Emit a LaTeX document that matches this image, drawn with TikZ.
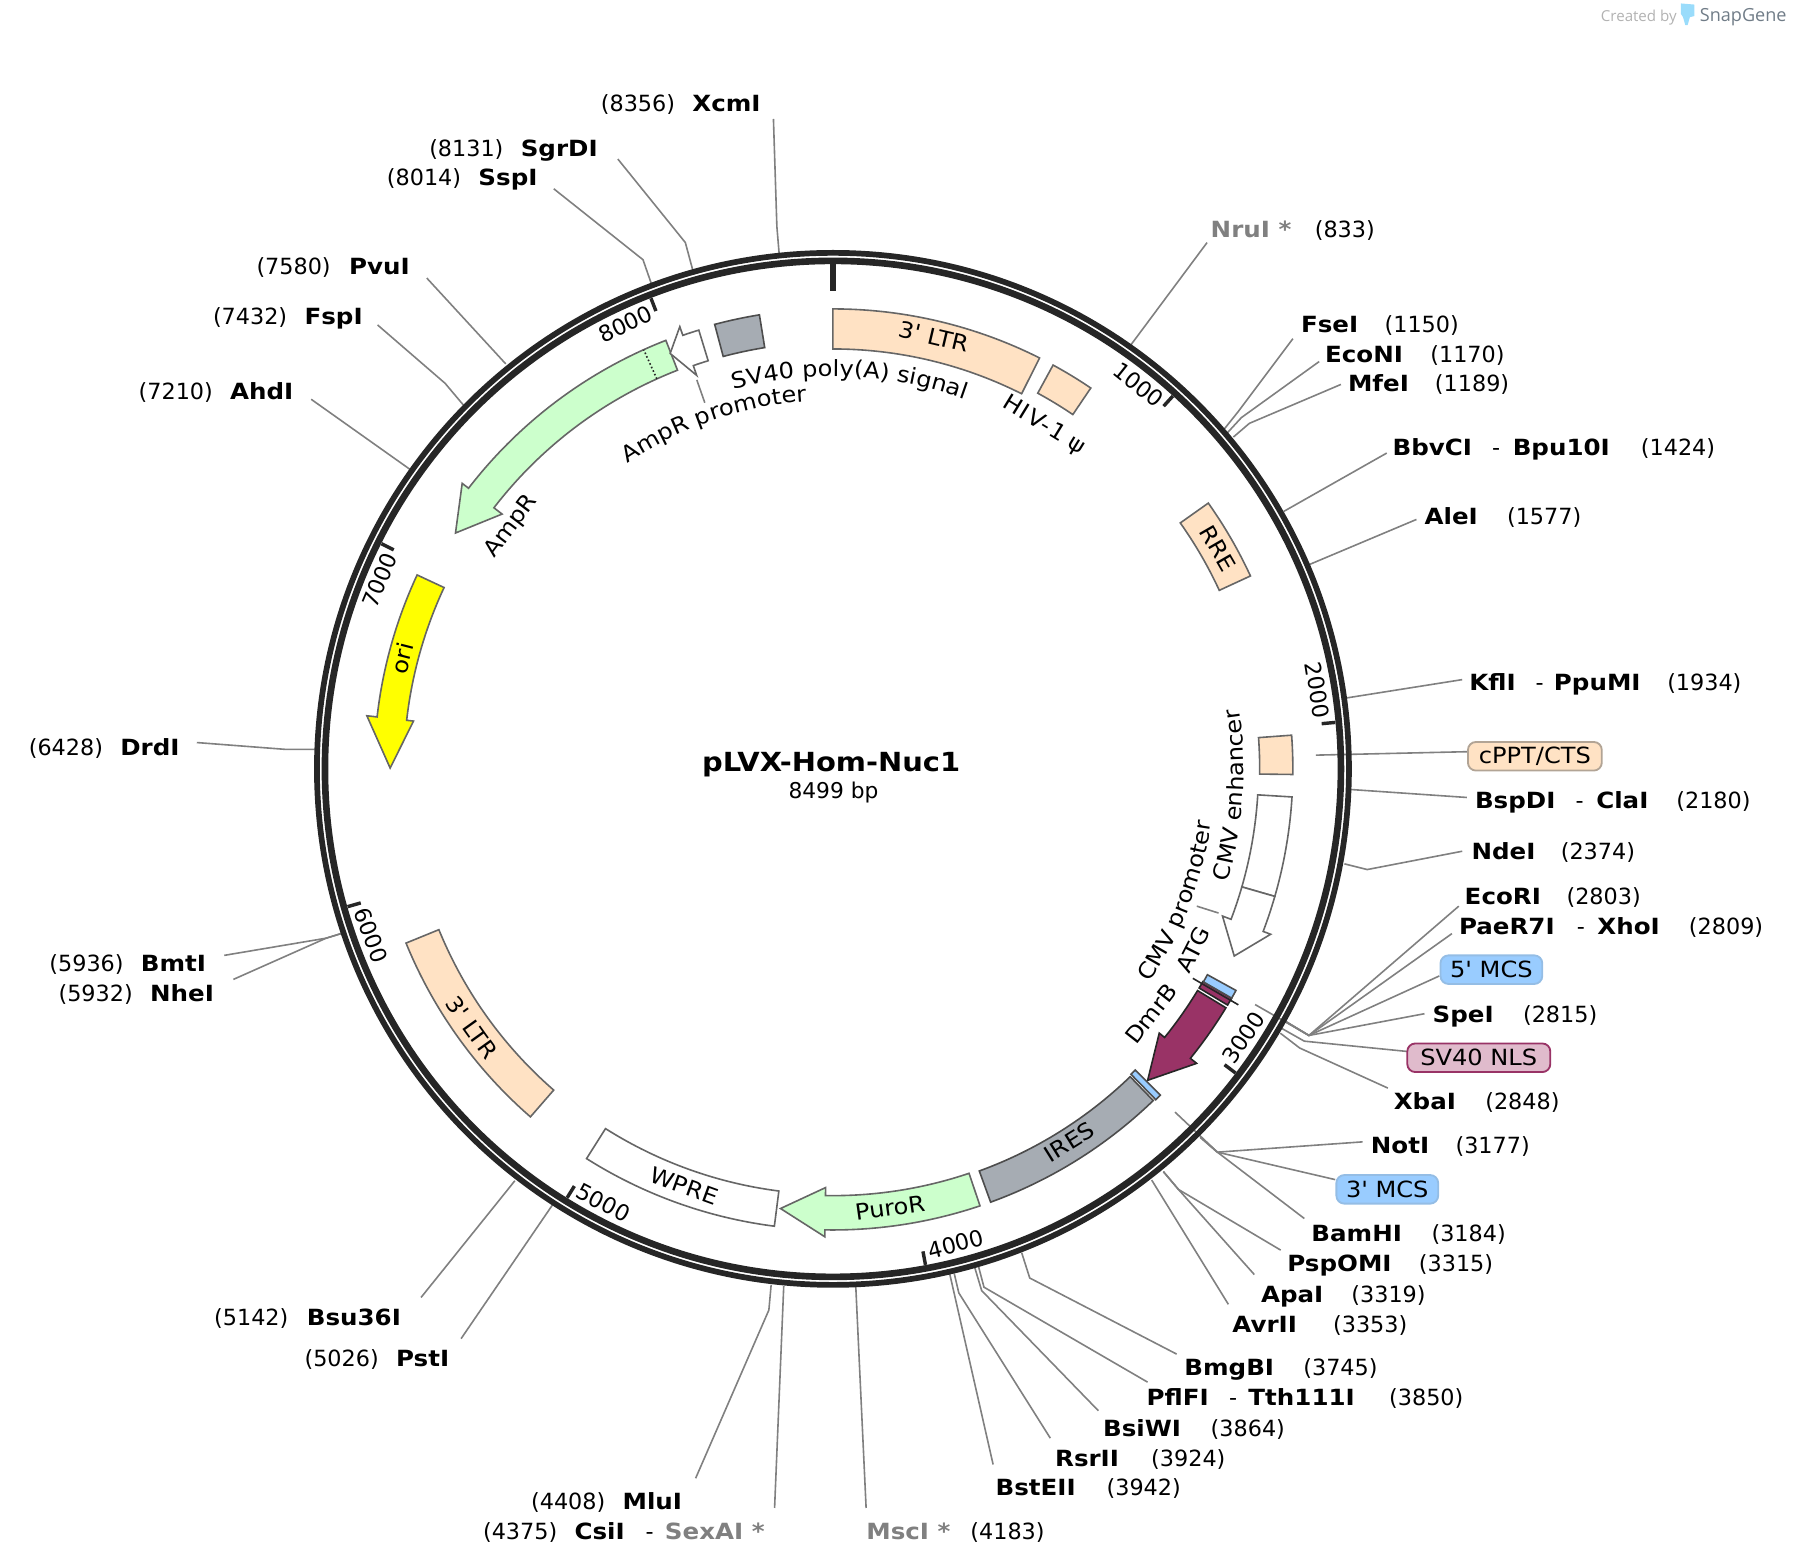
\documentclass[tikz,border=0pt]{standalone}
\usepackage{fontspec}
\setmainfont{DejaVu Sans}[Ligatures=TeXOff]
\newfontfamily\lbfont[FakeStretch=1.1]{DejaVu Sans Bold}
\newfontfamily\featfont[FakeStretch=1.08,Ligatures=TeXOff]{DejaVu Sans}
\newfontfamily\logofont{Open Sans}
\usetikzlibrary{decorations.text}
\definecolor{ringc}{HTML}{262626}
\definecolor{leadc}{HTML}{808080}
\definecolor{snapgray}{HTML}{808080}
\definecolor{edgec}{HTML}{666666}
\definecolor{edged}{HTML}{4D4D4D}
\definecolor{ltrc}{HTML}{FFE2C4}
\definecolor{greenc}{HTML}{CCFFCC}
\definecolor{grayf}{HTML}{A6ACB3}
\definecolor{magc}{HTML}{993366}
\definecolor{bluec}{HTML}{99CCFF}
\definecolor{nlsc}{HTML}{E0BBCC}
\definecolor{yelc}{HTML}{FFFF00}
\definecolor{logoc}{HTML}{707C87}
\definecolor{logob}{HTML}{9ADCFB}
\newcommand{\ft}{\fontsize{19.5}{23}\selectfont}
\newcommand{\fft}{\featfont\fontsize{19.5}{23}\selectfont}
\newcommand{\Nm}[1]{{\lbfont #1}}
\newcommand{\Gy}[1]{{\lbfont\color{snapgray}#1}}
\newcommand{\Gp}[2]{\makebox[#1pt][l]{#2}}
\newcommand{\lab}[4]{\node[sitelabel] (#1) at (#2,-#3-0.5) {#4};}
\newcommand{\ledT}[4]{\coordinate (#1a) at (#2);\coordinate (#1b) at (#3);\coordinate (#1c) at (#4);\draw[leader] (#1a) -- (#1b) -- (#1c);}
\newcommand{\ledS}[3]{\coordinate (#1a) at (#2);\coordinate (#1b) at (#3);\draw[leader] (#1a) -- (#1b);}
\newcommand{\feat}[5]{\draw[#1] ({90-#2}:#5) arc[start angle={90-#2},end angle={90-#3},radius=#5] -- ({90-#3}:#4) arc[start angle={90-#3},end angle={90-#2},radius=#4] -- cycle;}
% style a0 a1 atip ri ro rsi rso rt
\newcommand{\farrow}[9]{\draw[#1] ({90-#2}:#6) arc[start angle={90-#2},end angle={90-#3},radius=#6] -- ({90-#3}:#8) -- ({90-#4}:#9) -- ({90-#3}:#7) -- ({90-#3}:#5) arc[start angle={90-#3},end angle={90-#2},radius=#5] -- cycle;}
\newcommand{\tick}[2]{\draw[tickmark] ({90-#1}:441) -- ({90-#1}:#2);}
\newcommand{\ticklab}[3]{\node[ticktext,rotate=#2] at ({90-#1}:429) {#3};}
\tikzset{
 sitelabel/.style={anchor=base west,inner sep=0pt,font=\ft,text=black},
 leader/.style={draw=leadc,line width=1.4pt},
 tickmark/.style={draw=ringc,line width=3pt},
 ticktext/.style={inner sep=0pt,font=\ft,text=black},
 feattext/.style={inner sep=0pt,font=\fft,text=black},
 ltrf/.style={fill=ltrc,draw=edgec,line width=1.4pt,line join=miter},
 whitef/.style={fill=white,draw=edgec,line width=1.4pt},
 greenf/.style={fill=greenc,draw=edgec,line width=1.4pt},
 grayfe/.style={fill=grayf,draw=edged,line width=1.4pt},
 yelf/.style={fill=yelc,draw=edgec,line width=1.4pt},
 magf/.style={fill=magc,draw=ringc,line width=1.4pt},
 bluef/.style={fill=bluec,draw=edged,line width=1.4pt},
 tagbox/.style={inner sep=0pt,rounded corners=7pt,minimum height=25pt,font=\fft,line width=1.6pt,text=black},
 curved/.style={decorate,decoration={text along path,text align={align=center},text={|\fft|#1}}},
}
\begin{document}
\begin{tikzpicture}[x=1pt,y=1pt]
\useasboundingbox (0,0) rectangle (1568,-1370.46);
% logo
\node[anchor=base west,inner sep=0pt,font=\logofont\fontsize{13.2}{15}\selectfont,text=black!30] (created) at (1399,-18.5) {Created by};
\node[anchor=base west,inner sep=0pt,font=\logofont\fontsize{15.8}{18}\selectfont,text=logoc] (snapgene) at (1485.5,-18.5) {SnapGene};
\fill[logob] (1469,-3) -- (1481,-4) -- (1481,-14) -- (1477,-15) -- (1475,-22) -- (1473,-22) -- (1471,-15) -- (1469,-12) -- cycle;
% leaders
\ledT{xcm}{681,-222}{679,-198}{676,-104}
\ledT{sgr}{606,-238}{599,-212}{540,-139}
\ledT{ssp}{570,-250}{562,-227}{484,-165}
\ledS{pvu}{442,-318}{373,-243}
\ledT{fsp}{405,-354}{389,-335}{330,-284}
\ledS{ahd}{358,-410}{272,-349}
\ledT{drd}{275,-655}{250,-655}{172,-649}
\ledT{bmt}{298,-816}{285,-820}{196,-835}
\ledT{nhe}{298,-816}{285,-820}{204,-856}
\ledS{bsu}{450,-1032}{368,-1134}
\ledS{pst}{485,-1050}{403,-1170}
\ledT{mlu}{674,-1123}{672,-1145}{608,-1292}
\ledS{csi}{685,-1124}{677,-1318}
\ledS{msc}{748,-1125}{757,-1318}
\ledS{bst}{830,-1113}{868,-1280}
\ledT{rsr}{834,-1113}{838,-1130}{918,-1257}
\ledT{bsw}{852,-1108}{858,-1128}{960,-1233}
\ledT{pfl}{855,-1106}{860,-1125}{1003,-1208}
\ledT{bmg}{893,-1095}{900,-1117}{1028.4,-1183.5}
\ledS{avr}{1006.6,-1031.4}{1073.6,-1140}
\ledT{apa}{1016.8,-1024}{1030,-1039.6}{1096.3,-1114}
\ledT{psp}{1016.8,-1024}{1030,-1039.6}{1119.3,-1092.6}
\ledT{bam}{1027,-972}{1064,-1007}{1140,-1065}
\ledT{mcsb}{1049,-994}{1064,-1007}{1167,-1031}
\ledT{not}{1049,-994}{1064,-1007}{1191,-998}
\ledT{xba}{1119,-903}{1136,-916}{1213,-951}
\ledT{nls}{1117,-897}{1140,-910}{1230,-919}
\ledT{spe}{1097,-878}{1144,-905}{1245,-886}
\ledT{mcsa}{1124,-893}{1144,-905}{1258,-853}
\ledT{pae}{1124,-893}{1144,-905}{1269,-816}
\ledT{eco}{1124,-893}{1144,-905}{1275,-792}
\ledT{nde}{1175,-755}{1195,-760}{1278,-744}
\ledS{bsp}{1180,-690}{1282,-697}
\ledS{cppt}{1150,-660}{1282,-657}
\ledS{kfl}{1177,-610}{1278,-594}
\ledS{ale}{1143,-494}{1238,-454}
\ledS{bbv}{1122,-447}{1212,-396}
\ledT{mfe}{1078,-382}{1092,-370}{1172,-336}
\ledT{ecn}{1073,-378}{1085,-365}{1153,-316}
\ledT{fse}{1070,-375}{1082,-360}{1130,-296}
\ledS{nru}{988,-302}{1055,-212}
\ledS{cmvp}{1046,-792}{1065,-798}
\ledS{ampp}{609,-332}{616,-352}
% plasmid
\begin{scope}[shift={(728,-672)}]
\draw[ringc,line width=5pt] (0,0) circle[radius=451];
\draw[ringc,line width=5.8pt] (0,0) circle[radius=444];
\draw[ringc,line width=4.5pt] (90:441) -- (90:418);
\foreach \a/\r in {42.357/429,84.716/429,127.07/429,169.43/429,211.79/429,254.15/429,296.5/429,338.86/429} {\tick{\a}{\r}}
\ticklab{38.5}{-38.5}{1000}
\ticklab{80.8}{-80.8}{2000}
\ticklab{123.2}{56.8}{3000}
\ticklab{165.5}{14.5}{4000}
\ticklab{207.9}{-27.9}{5000}
\ticklab{250.2}{-70.2}{6000}
\ticklab{292.6}{67.4}{7000}
\ticklab{335}{25}{8000}
\feat{ltrf}{0}{26.7}{367}{402}
\feat{ltrf}{28.6}{34.1}{374}{402}
\feat{ltrf}{54.7}{65.2}{372}{402}
\feat{ltrf}{85.8}{90.7}{373}{402}
\feat{whitef}{93.5}{106.1}{372}{402}
\farrow{whitef}{106.1}{110.7}{115}{372}{402}{364}{409}{387}
\farrow{magf}{121.3}{129}{134.7}{373}{402}{367}{409}{387}
\feat{magf}{119.9}{120.9}{373}{402}
\draw[ringc,line width=1.4pt] ({90-120.2}:364) -- ({90-120.2}:410);
\feat{bluef}{118.8}{119.9}{373.5}{402}
\feat{grayfe}{136.0}{160}{374}{403}
\feat{bluef}{134.9}{135.7}{373}{404}
\farrow{greenf}{161.4}{181}{186.8}{373}{403}{366}{409}{387}
\feat{whitef}{187.3}{212.3}{372}{403}
\feat{ltrf}{221}{247.8}{372}{403}
\farrow{yelf}{295}{276.5}{270.1}{375}{401}{369}{410}{387}
\farrow{greenf}{338.7}{307.6}{302}{374}{402}{365}{409}{389}
\draw[ringc,line width=1.4pt,dotted] ({90-335.7}:374) -- ({90-335.7}:402);
\farrow{whitef}{343}{340.9}{338.6}{373}{401}{364}{409}{390}
\feat{grayfe}{345.1}{350.8}{373}{402}
% feature text
\node[feattext,rotate=-13.2] (t3ltr) at ({90-13.2}:388) {3' LTR};
\node[feattext,rotate=-31.5] (thiv) at ({90-31.5}:352) {H\kern1.5pt I\kern1.5pt V-\kern1.5pt 1\kern6pt ψ};
\node[feattext,rotate=-60] (trre) at ({90-60.2}:388) {RRE};
\node[feattext,rotate=63] (tatg) at ({90-116.6}:352) {ATG};
\node[feattext,rotate=52] (tdmr) at ({90-127.6}:351) {DmrB};
\node[feattext,rotate=32] (tires) at ({90-147.6}:386) {IRES};
\node[feattext,rotate=8] (tpuro) at ({90-172.6}:387) {PuroR};
\node[feattext,rotate=-20] (twpre) at ({90-199.6}:387) {WPRE};
\node[feattext,rotate=-54.4] (tltrb) at ({90-234.4}:388) {3' LTR};
\node[feattext,rotate=75.6] (tori) at ({90-284.4}:389) {ori};
\node[feattext,rotate=53] (tamp) at ({90-307}:352) {AmpR};
\path[curved={SV40 poly(A) signal}] (110:343) arc[start angle=110,end angle=65,radius=343];
\path[curved={AmpR promoter}] (139:322) arc[start angle=139,end angle=79,radius=322];
\path[curved={CMV enhancer}] (-26:359) arc[start angle=-26,end angle=18.4,radius=359];
\path[curved={CMV promoter}] (-46:334) arc[start angle=-46,end angle=4,radius=334];
\end{scope}
% centre
\node[inner sep=0pt,font=\lbfont\fontsize{23}{26}\selectfont] (title) at (726.5,-668) {pLVX-Hom-Nuc1};
\node[inner sep=0pt,font=\fontsize{19}{22}\selectfont] (size) at (728.5,-693) {8499 bp};
% site labels
\lab{lxcm}{525}{97}{\Gp{80}{(8356)}\Nm{XcmI}}
\lab{lsgr}{375}{136}{\Gp{80}{(8131)}\Nm{SgrDI}}
\lab{lssp}{338}{162}{\Gp{80}{(8014)}\Nm{SspI}}
\lab{lpvu}{224}{239}{\Gp{81}{(7580)}\Nm{PvuI}}
\lab{lfsp}{186}{283}{\Gp{80}{(7432)}\Nm{FspI}}
\lab{lahd}{121}{349}{\Gp{80}{(7210)}\Nm{AhdI}}
\lab{ldrd}{25}{660}{\Gp{80}{(6428)}\Nm{DrdI}}
\lab{lbmt}{43}{849}{\Gp{80}{(5936)}\Nm{BmtI}}
\lab{lnhe}{51}{875}{\Gp{80}{(5932)}\Nm{NheI}}
\lab{lbsu}{187}{1158}{\Gp{81}{(5142)}\Nm{Bsu36I}}
\lab{lpst}{266}{1194}{\Gp{80}{(5026)}\Nm{PstI}}
\lab{lmlu}{464}{1319}{\Gp{80}{(4408)}\Nm{MluI}}
\lab{lcsi}{422}{1345}{\Gp{80}{(4375)}\Gp{62}{\Nm{CsiI}}\Gp{17}{-}\Gy{SexAI *}}
\lab{lmsc}{757}{1345}{\Gp{91}{\Gy{MscI *}}(4183)}
\lab{lbst}{870}{1307}{\Gp{97}{\Nm{BstEII}}(3942)}
\lab{lrsr}{922}{1281}{\Gp{84}{\Nm{RsrII}}(3924)}
\lab{lbsw}{964}{1255}{\Gp{94}{\Nm{BsiWI}}(3864)}
\lab{lpfl}{1002}{1228}{\Gp{72}{\Nm{PflFI}}\Gp{17}{-}\Gp{123}{\Nm{Tth111I}}(3850)}
\lab{lbmg}{1035}{1202}{\Gp{104}{\Nm{BmgBI}}(3745)}
\lab{lavr}{1077}{1164}{\Gp{88}{\Nm{AvrII}}(3353)}
\lab{lapa}{1102}{1138}{\Gp{79}{\Nm{ApaI}}(3319)}
\lab{lpsp}{1125}{1111}{\Gp{115}{\Nm{PspOMI}}(3315)}
\lab{lbam}{1146}{1085}{\Gp{105}{\Nm{BamHI}}(3184)}
\lab{lnot}{1198}{1008}{\Gp{74}{\Nm{NotI}}(3177)}
\lab{lxba}{1218}{969}{\Gp{80}{\Nm{XbaI}}(2848)}
\lab{lspe}{1252}{893}{\Gp{79}{\Nm{SpeI}}(2815)}
\lab{lpae}{1275}{816}{\Gp{103}{\Nm{PaeR7I}}\Gp{18}{-}\Gp{80}{\Nm{XhoI}}(2809)}
\lab{leco}{1280}{790}{\Gp{89}{\Nm{EcoRI}}(2803)}
\lab{lnde}{1286}{751}{\Gp{78}{\Nm{NdeI}}(2374)}
\lab{lbsp}{1289}{706}{\Gp{88}{\Nm{BspDI}}\Gp{18}{-}\Gp{70}{\Nm{ClaI}}(2180)}
\lab{lkfl}{1284}{603}{\Gp{58}{\Nm{KflI}}\Gp{16}{-}\Gp{99}{\Nm{PpuMI}}(1934)}
\lab{lale}{1245}{458}{\Gp{72}{\Nm{AleI}}(1577)}
\lab{lbbv}{1217}{398}{\Gp{87}{\Nm{BbvCI}}\Gp{18}{-}\Gp{112}{\Nm{Bpu10I}}(1424)}
\lab{lmfe}{1178}{342}{\Gp{76}{\Nm{MfeI}}(1189)}
\lab{lecn}{1158}{316}{\Gp{92}{\Nm{EcoNI}}(1170)}
\lab{lfse}{1137}{290}{\Gp{73}{\Nm{FseI}}(1150)}
\lab{lnru}{1058}{207}{\Gp{91}{\Gy{NruI *}}(833)}
% tags
\node[tagbox,fill=ltrc,draw=edgec!50!ltrc,minimum width=117pt] (tcppt) at (1341.5,-661) {cPPT/CTS};
\node[tagbox,fill=bluec,draw=bluec!80!gray,minimum width=89pt] (tmcsa) at (1303.5,-847.5) {5' MCS};
\node[tagbox,fill=nlsc,draw=magc,minimum width=125pt] (tnls) at (1292.5,-924.5) {SV40 NLS};
\node[tagbox,fill=bluec,draw=bluec!80!gray,minimum width=89pt] (tmcsb) at (1212.5,-1039.5) {3' MCS};
\end{tikzpicture}
\end{document}
